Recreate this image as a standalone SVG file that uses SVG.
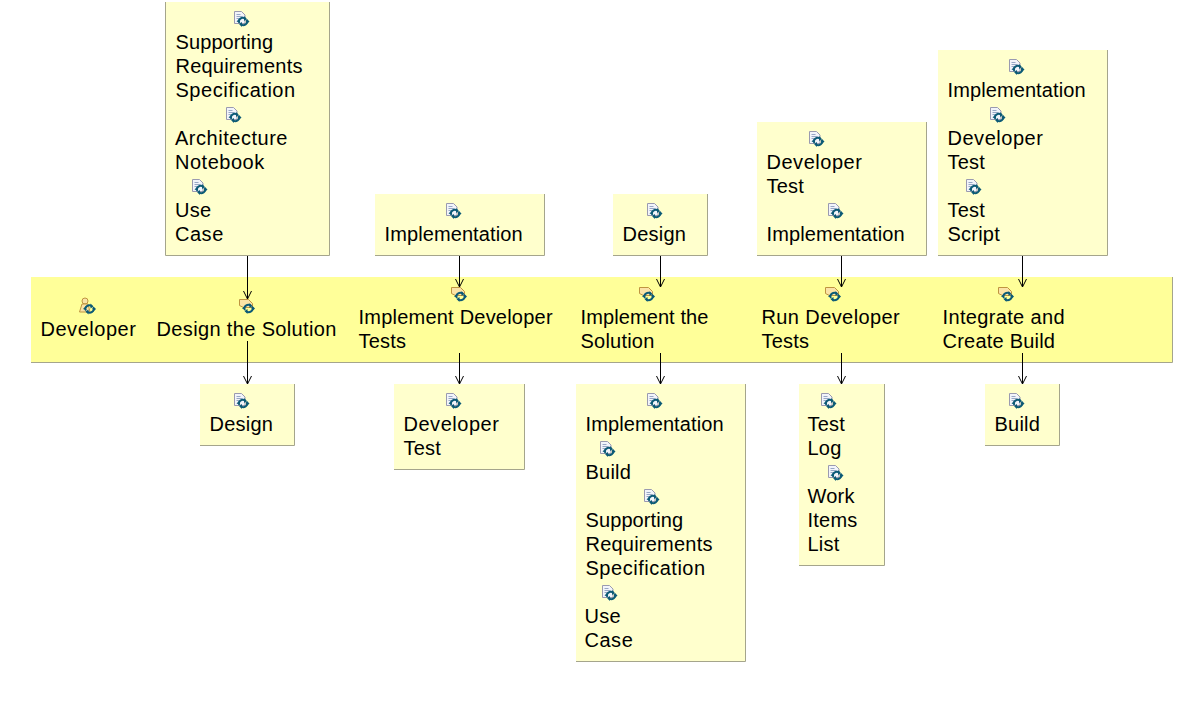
<svg xmlns="http://www.w3.org/2000/svg" width="1194" height="720" viewBox="0 0 1194 720">
<style>
text{font-family:"Liberation Sans",Arial,sans-serif;font-size:20px;fill:#000;letter-spacing:.22px}
text.w{letter-spacing:.52px}
text.n{letter-spacing:.1px}
.note{fill:#ffffcd;stroke:none}
.band{fill:#ffff99}
.edge{fill:none;stroke:#a5a58c;stroke-width:1}
.conn line{stroke:#000;stroke-width:1}
</style>
<defs>
<g id="sync"><path d="M-3.500 1.500A3.800 3.300 0 0 1 2.500-2.500M3.500-1.500A3.800 3.300 0 0 1-2.500 2.500" fill="none" stroke="#0c5a76" stroke-width="2"/><path d="M-6.500 0l3-3v4zM6.500 0l-3-3v6zM1-5.500l3 3-3 2zM-1 5.500l-3-3 3-2z" fill="#0c5a76"/></g>
<g id="doc"><path d="M-6.500-7.500h7l3.500 3.500v8.500h-10.500z" fill="#f2f4fa" stroke="#9a9ab0"/><path d="M-4.500-4.500h4M-4.500-2.500h6M-4.500-.5h3" stroke="#7f93b8" stroke-width=".8"/><use href="#sync" x="2" y="2.500"/></g>
<g id="task"><path d="M-6.500-6.500h9l4 4v4h-9l-4-2z" fill="#fbe3a6" stroke="#bf9440"/><use href="#sync" x="2.500" y="2.500"/></g>
<g id="role"><circle cx="-2" cy="-5" r="3" fill="#fbe3a6" stroke="#bf9440"/><path d="M-7.500 6l2.500-8h6l2 8z" fill="#fbe3a6" stroke="#bf9440"/><use href="#sync" x="2.500" y="3"/></g>
<marker id="arrow" markerWidth="10" markerHeight="10" refX="8" refY="4.500" orient="auto" markerUnits="userSpaceOnUse"><path d="M0 .5L8 4.500L0 8.500" fill="none" stroke="#000"/></marker>
</defs>
<g id="band"><rect class="band" x="31" y="277" width="1141" height="85"/><path class="edge" d="M31 362.500H1172.500V277"/></g>
<g id="role-developer"><use href="#role" x="87" y="306"/><text class="w" x="40.500" y="336">Developer</text></g>
<g id="task-design"><use href="#task" x="246" y="306"/><text style="letter-spacing:.36px" x="156.500" y="336">Design the Solution</text></g>
<g id="task-impl-tests"><use href="#task" x="458" y="294"/><text x="358.500" y="324">Implement Developer</text><text x="358.500" y="348">Tests</text></g>
<g id="task-impl-solution"><use href="#task" x="646" y="294"/><text class="n" x="580.500" y="324">Implement the</text><text x="580.500" y="348">Solution</text></g>
<g id="task-run-tests"><use href="#task" x="832" y="294"/><text style="letter-spacing:.4px" x="761.500" y="324">Run Developer</text><text x="761.500" y="348">Tests</text></g>
<g id="task-integrate"><use href="#task" x="1005" y="294"/><text style="letter-spacing:.35px" x="942.500" y="324">Integrate and</text><text x="942.500" y="348">Create Build</text></g>
<g id="in-design"><rect class="note" x="166" y="2" width="163" height="253"/><path class="edge" d="M165.500 2V255.500H329.500V2"/><use href="#doc" x="241" y="19"/><text class="n" x="175.500" y="49">Supporting</text><text x="175.500" y="73">Requirements</text><text class="w" x="175.500" y="97">Specification</text><use href="#doc" x="233" y="115"/><text class="w" x="175" y="145">Architecture</text><text class="w" x="175" y="169">Notebook</text><use href="#doc" x="199" y="187"/><text x="175" y="217">Use</text><text class="w" x="175" y="241">Case</text></g>
<g id="in-impl-tests"><rect class="note" x="375" y="194" width="169" height="61"/><path class="edge" d="M375 255.500H544.500V194"/><use href="#doc" x="453" y="211"/><text class="n" x="384.500" y="241">Implementation</text></g>
<g id="in-impl-solution"><rect class="note" x="613" y="194" width="94" height="61"/><path class="edge" d="M613 255.500H707.500V194"/><use href="#doc" x="654" y="211"/><text x="622.500" y="241">Design</text></g>
<g id="in-run-tests"><rect class="note" x="757" y="122" width="169" height="133"/><path class="edge" d="M757 255.500H926.500V122"/><use href="#doc" x="816" y="139"/><text class="w" x="766.500" y="169">Developer</text><text x="766.500" y="193">Test</text><use href="#doc" x="835" y="211"/><text class="n" x="766.500" y="241">Implementation</text></g>
<g id="in-integrate"><rect class="note" x="938" y="50" width="169" height="205"/><path class="edge" d="M938 255.500H1107.500V50"/><use href="#doc" x="1016" y="67"/><text class="n" x="947.500" y="97">Implementation</text><use href="#doc" x="997" y="115"/><text class="w" x="947.500" y="145">Developer</text><text x="947.500" y="169">Test</text><use href="#doc" x="973" y="187"/><text x="947.500" y="217">Test</text><text x="947.500" y="241">Script</text></g>
<g id="out-design"><rect class="note" x="200" y="384" width="94" height="61"/><path class="edge" d="M200 445.500H294.500V384"/><use href="#doc" x="241" y="401"/><text x="209.500" y="431">Design</text></g>
<g id="out-impl-tests"><rect class="note" x="394" y="384" width="130" height="85"/><path class="edge" d="M394 469.500H524.500V384"/><use href="#doc" x="453" y="401"/><text class="w" x="403.500" y="431">Developer</text><text x="403.500" y="455">Test</text></g>
<g id="out-impl-solution"><rect class="note" x="576" y="384" width="169" height="277"/><path class="edge" d="M576 661.500H745.500V384"/><use href="#doc" x="654" y="401"/><text class="n" x="585.500" y="431">Implementation</text><use href="#doc" x="607" y="449"/><text x="585.500" y="479">Build</text><use href="#doc" x="651" y="497"/><text class="n" x="585.500" y="527">Supporting</text><text x="585.500" y="551">Requirements</text><text class="w" x="585.500" y="575">Specification</text><use href="#doc" x="609" y="593"/><text x="584.500" y="623">Use</text><text class="w" x="584.500" y="647">Case</text></g>
<g id="out-run-tests"><rect class="note" x="799" y="384" width="85" height="181"/><path class="edge" d="M799 565.500H884.500V384"/><use href="#doc" x="828" y="401"/><text x="807.500" y="431">Test</text><text x="807.500" y="455">Log</text><use href="#doc" x="835" y="473"/><text x="807.500" y="503">Work</text><text x="807.500" y="527">Items</text><text x="807.500" y="551">List</text></g>
<g id="out-integrate"><rect class="note" x="985" y="384" width="74" height="61"/><path class="edge" d="M985 445.500H1059.500V384"/><use href="#doc" x="1016" y="401"/><text x="994.500" y="431">Build</text></g>
<g id="connectors" class="conn">
<line x1="247.500" y1="256" x2="247.500" y2="299" marker-end="url(#arrow)"/>
<line x1="459.500" y1="256" x2="459.500" y2="287" marker-end="url(#arrow)"/>
<line x1="660.500" y1="256" x2="660.500" y2="287" marker-end="url(#arrow)"/>
<line x1="841.500" y1="256" x2="841.500" y2="287" marker-end="url(#arrow)"/>
<line x1="1022.500" y1="256" x2="1022.500" y2="287" marker-end="url(#arrow)"/>
<line x1="247.500" y1="341" x2="247.500" y2="384" marker-end="url(#arrow)"/>
<line x1="459.500" y1="353" x2="459.500" y2="384" marker-end="url(#arrow)"/>
<line x1="660.500" y1="353" x2="660.500" y2="384" marker-end="url(#arrow)"/>
<line x1="841.500" y1="353" x2="841.500" y2="384" marker-end="url(#arrow)"/>
<line x1="1022.500" y1="353" x2="1022.500" y2="384" marker-end="url(#arrow)"/>
</g>
</svg>
